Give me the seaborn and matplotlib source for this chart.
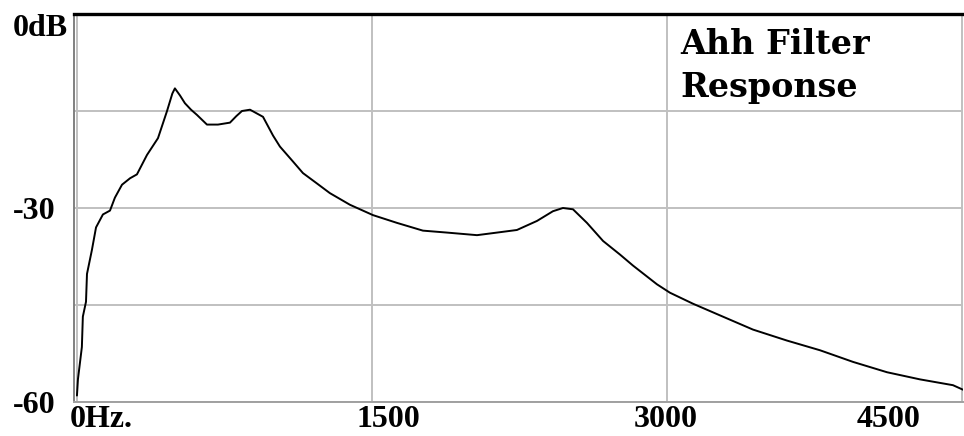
import matplotlib
matplotlib.use("Agg")
import matplotlib.pyplot as plt
from matplotlib.transforms import ScaledTranslation
import seaborn as sns

# Respuesta del filtro "Ahh" leída a ojo de la imagen
freq_hz = [0, 5, 15, 25, 30, 46, 51, 76, 97, 132, 168, 193, 229, 270, 305, 356,
           412, 458, 485, 498, 524, 549, 580, 610, 661, 717, 778, 810, 839, 880,
           946, 997, 1032, 1098, 1149, 1220, 1286, 1388, 1505, 1627, 1759, 1881,
           2034, 2136, 2237, 2339, 2420, 2471, 2522, 2593, 2675, 2761, 2827, 2949,
           3015, 3132, 3269, 3437, 3610, 3778, 3946, 4119, 4286, 4454, 4505]
gain_db = [-59.0, -56.5, -54.0, -51.5, -46.8, -44.5, -40.2, -36.5, -33.0, -31.0,
           -30.4, -28.4, -26.4, -25.4, -24.8, -21.8, -19.2, -15.0, -12.3, -11.5,
           -12.6, -13.8, -14.8, -15.6, -17.1, -17.1, -16.8, -15.8, -15.0, -14.8,
           -15.9, -18.8, -20.5, -22.8, -24.6, -26.2, -27.7, -29.5, -31.1, -32.3,
           -33.5, -33.8, -34.2, -33.8, -33.4, -32.0, -30.5, -30.0, -30.2, -32.3,
           -35.1, -37.2, -38.9, -41.8, -43.1, -44.8, -46.6, -48.8, -50.5, -52.0,
           -53.8, -55.4, -56.5, -57.4, -58.1]

x_ticks = [0, 1500, 3000, 4500]
x_labels = ["0Hz.", "1500", "3000", "4500"]
y_ticks = [0, -15, -30, -45, -60]
y_labels = ["0dB", "", "-30", "", "-60"]
titulo = "Ahh Filter\nResponse"


def main():
    sns.set_style("white")
    plt.rcParams['font.family'] = ['Liberation Serif', 'DejaVu Serif']
    plt.rcParams['text.color'] = 'black'
    plt.rcParams['xtick.color'] = 'black'
    plt.rcParams['ytick.color'] = 'black'

    fig = plt.figure(figsize=(9.64, 4.36), dpi=100)
    ax = fig.add_axes([74 / 964, 34 / 436, 889 / 964, 388 / 436])

    sns.lineplot(x=freq_hz, y=gain_db, color='black', linewidth=1.4, ax=ax)

    ax.set_xlim(-15, 4505)
    ax.set_ylim(-60, 0)

    ax.set_xticks(x_ticks)
    ax.set_xticklabels(x_labels, fontsize=23, fontweight='bold', color='black')
    ax.set_yticks(y_ticks)
    ax.set_yticklabels(y_labels, fontsize=23, fontweight='bold', ha='left', color='black')
    ax.tick_params(axis='both', length=0)
    ax.tick_params(axis='y', pad=44)
    ax.tick_params(axis='x', pad=2)

    # desplazar etiquetas del eje x como en el original
    desplaz = [-7, 16, -1, -73]
    for lbl, dx in zip(ax.get_xticklabels(), desplaz):
        lbl.set_transform(lbl.get_transform() + ScaledTranslation(dx / 100, 0, fig.dpi_scale_trans))
    ax.get_xticklabels()[0].set_ha('left')
    ax.get_yticklabels()[0].set_va('top')

    ax.grid(True, color='#c0c0c0', linewidth=1.4)
    ax.set_axisbelow(True)

    ax.spines['top'].set_color('black')
    ax.spines['top'].set_linewidth(2.4)
    ax.spines['left'].set_color('#808080')
    ax.spines['left'].set_linewidth(1.4)
    ax.spines['bottom'].set_color('#a0a0a0')
    ax.spines['bottom'].set_linewidth(1.4)
    ax.spines['right'].set_visible(False)

    ax.text((680 - 74) / 889, 0.965, titulo, transform=ax.transAxes,
            fontsize=24, fontweight='bold', family='DejaVu Serif', color='black',
            va='top', ha='left', linespacing=1.4)

    ax.set_xlabel('')
    ax.set_ylabel('')
    fig.savefig('out.png', dpi=100)


if __name__ == "__main__":
    main()
